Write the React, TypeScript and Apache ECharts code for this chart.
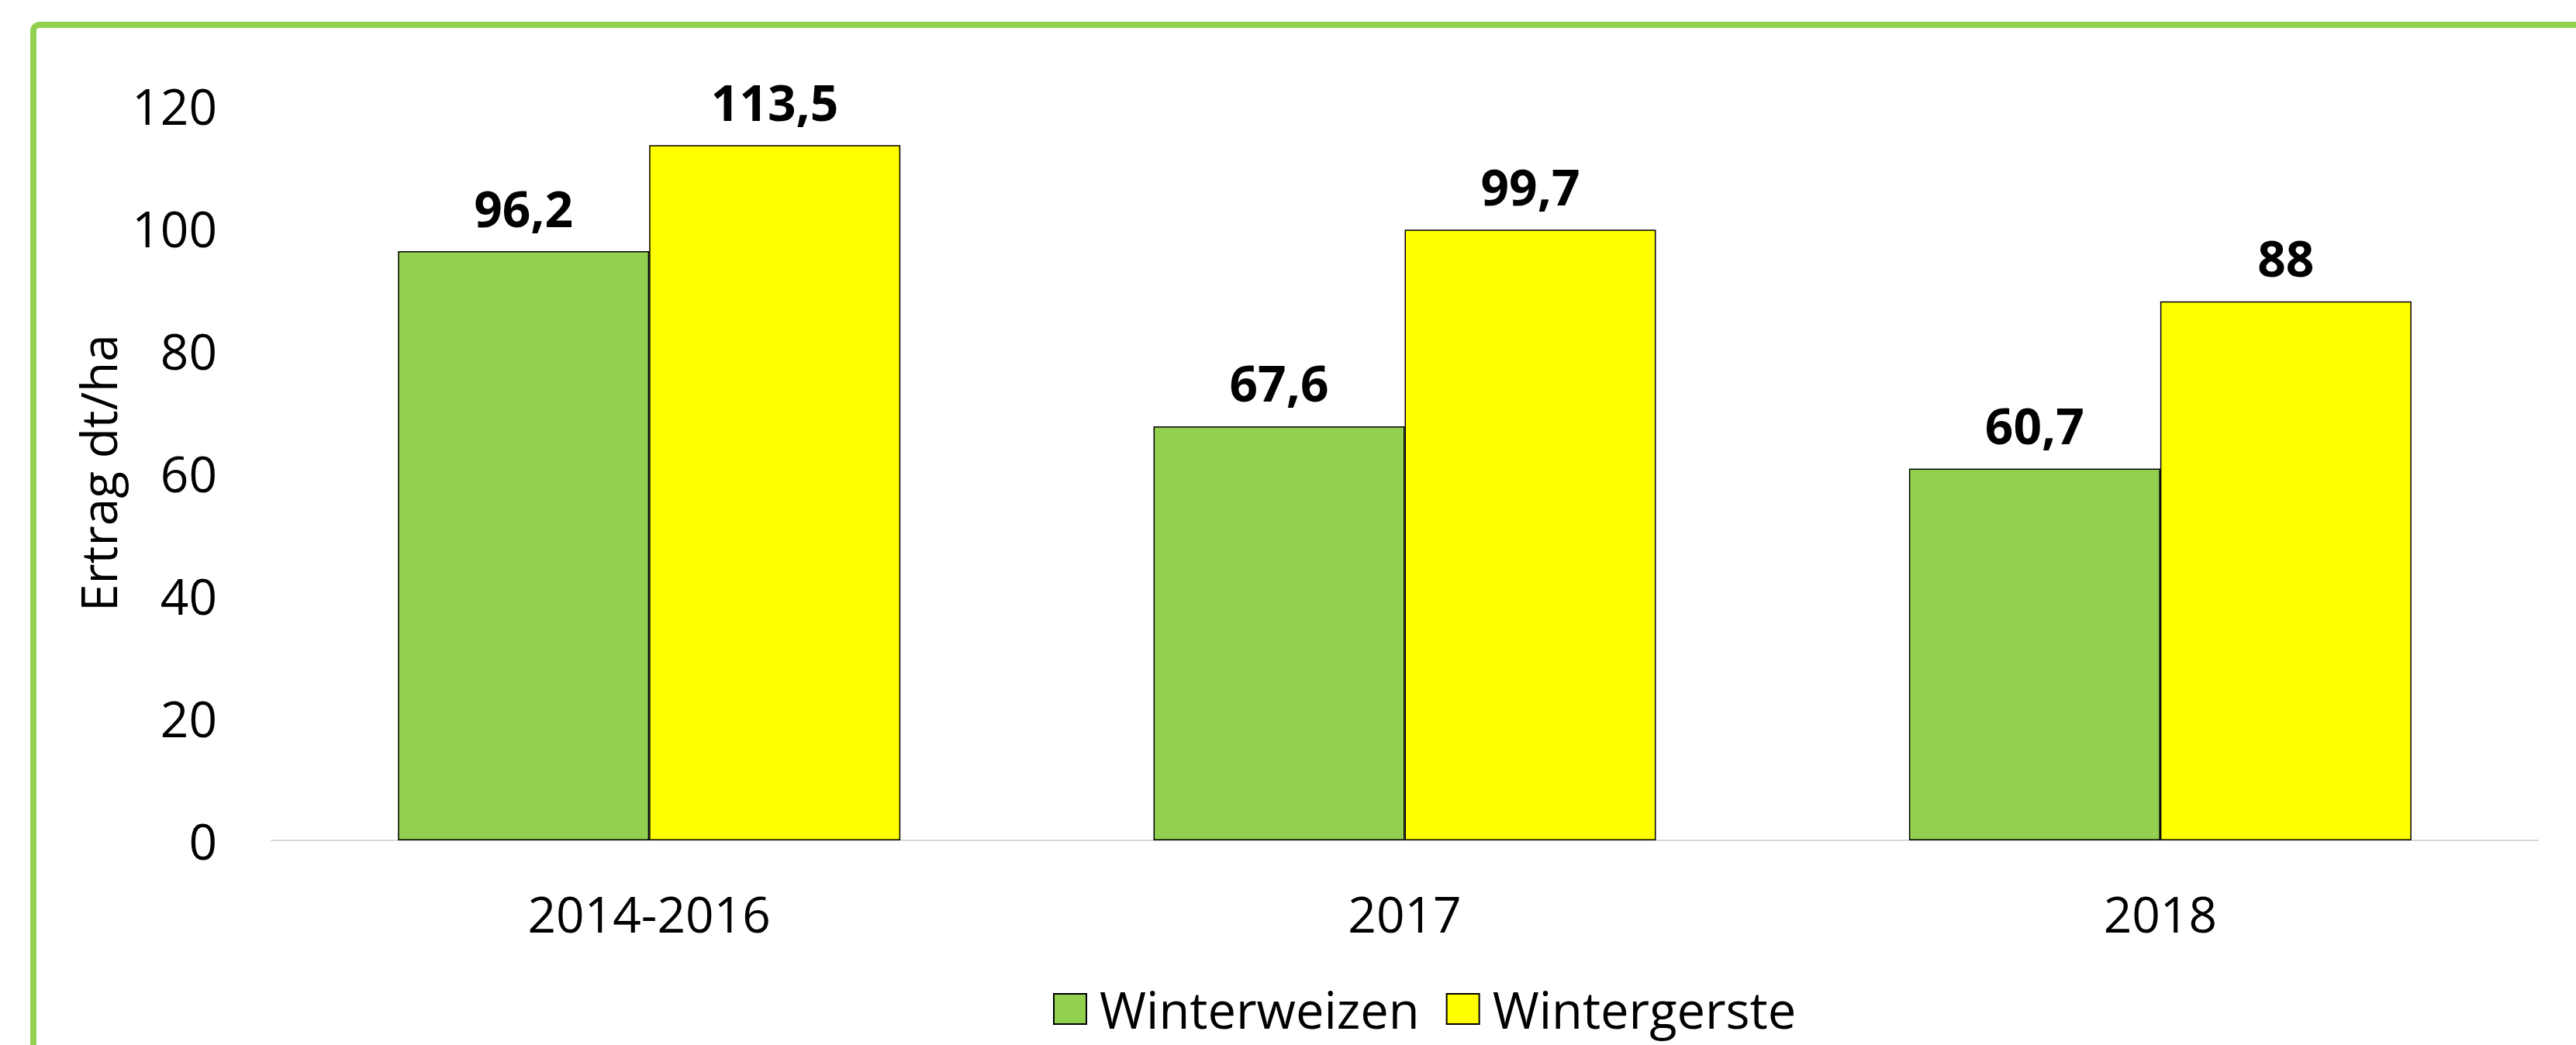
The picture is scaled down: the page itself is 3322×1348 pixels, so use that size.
import React, { useEffect, useRef } from "react";
import * as echarts from "echarts";

const categories = ["2014-2016", "2017", "2018"];
const winterweizen = [96.2, 67.6, 60.7];
const wintergerste = [113.5, 99.7, 88];
const seriesNames = ["Winterweizen", "Wintergerste"];
const yTicks = { min: 0, max: 120, interval: 20 };
const axisTitle = "Ertrag dt/ha";

const FONT = "'Open Sans', 'Noto Sans', sans-serif";

export default function App() {
  const ref = useRef<HTMLDivElement>(null);
  useEffect(() => {
    if (!ref.current) return;
    const chart = echarts.init(ref.current, undefined, { renderer: "svg" });
    const label = {
      show: true,
      position: "top",
      distance: 24,
      fontFamily: FONT,
      fontWeight: "bold",
      fontSize: 64,
      color: "#000",
      formatter: (p: any) => String(p.value).replace(".", ","),
    };
    chart.setOption({
      animation: false,
      backgroundColor: "#fff",
      grid: { left: 350, right: 49, top: 136, bottom: 264, containLabel: false },
      legend: {
        left: 1353,
        top: 1264,
        itemWidth: 42,
        itemHeight: 39,
        itemGap: 34,
        icon: "rect",
        textStyle: { fontFamily: FONT, fontSize: 65, color: "#000", padding: [0, 0, 0, 12] },
        data: seriesNames,
      },
      xAxis: {
        type: "category",
        data: categories,
        axisLine: { lineStyle: { color: "#D9D9D9", width: 2 } },
        axisTick: { show: false },
        axisLabel: { fontFamily: FONT, fontSize: 64, color: "#000", margin: 62 },
      },
      yAxis: {
        type: "value",
        min: yTicks.min,
        max: yTicks.max,
        interval: yTicks.interval,
        splitLine: { show: false },
        axisLine: { show: false },
        axisTick: { show: false },
        axisLabel: { fontFamily: FONT, fontSize: 64, color: "#000", margin: 70 },
        name: axisTitle,
        nameLocation: "middle",
        nameRotate: 90,
        nameGap: 192,
        nameTextStyle: { fontFamily: FONT, fontSize: 64, color: "#000" },
      },
      series: [
        {
          name: seriesNames[0],
          type: "bar",
          data: winterweizen,
          barGap: "0%",
          barCategoryGap: "33.5%",
          itemStyle: { color: "#92D050", borderColor: "#000", borderWidth: 1.5 },
          label,
        },
        {
          name: seriesNames[1],
          type: "bar",
          data: wintergerste,
          barGap: "0%",
          barCategoryGap: "33.5%",
          itemStyle: { color: "#FFFF00", borderColor: "#000", borderWidth: 1.5 },
          label,
        },
      ],
      graphic: [
        {
          type: "rect",
          shape: { x: 43, y: 32, width: 4000, height: 2000, r: 8 },
          style: { fill: "none", stroke: "#92D050", lineWidth: 8 },
          silent: true,
          z: 100,
        },
      ],
    });
    return () => chart.dispose();
  }, []);
  return (
    <div
      ref={ref}
      style={{ position: "fixed", left: 0, top: 0, width: 3322, height: 1348 }}
    />
  );
}
